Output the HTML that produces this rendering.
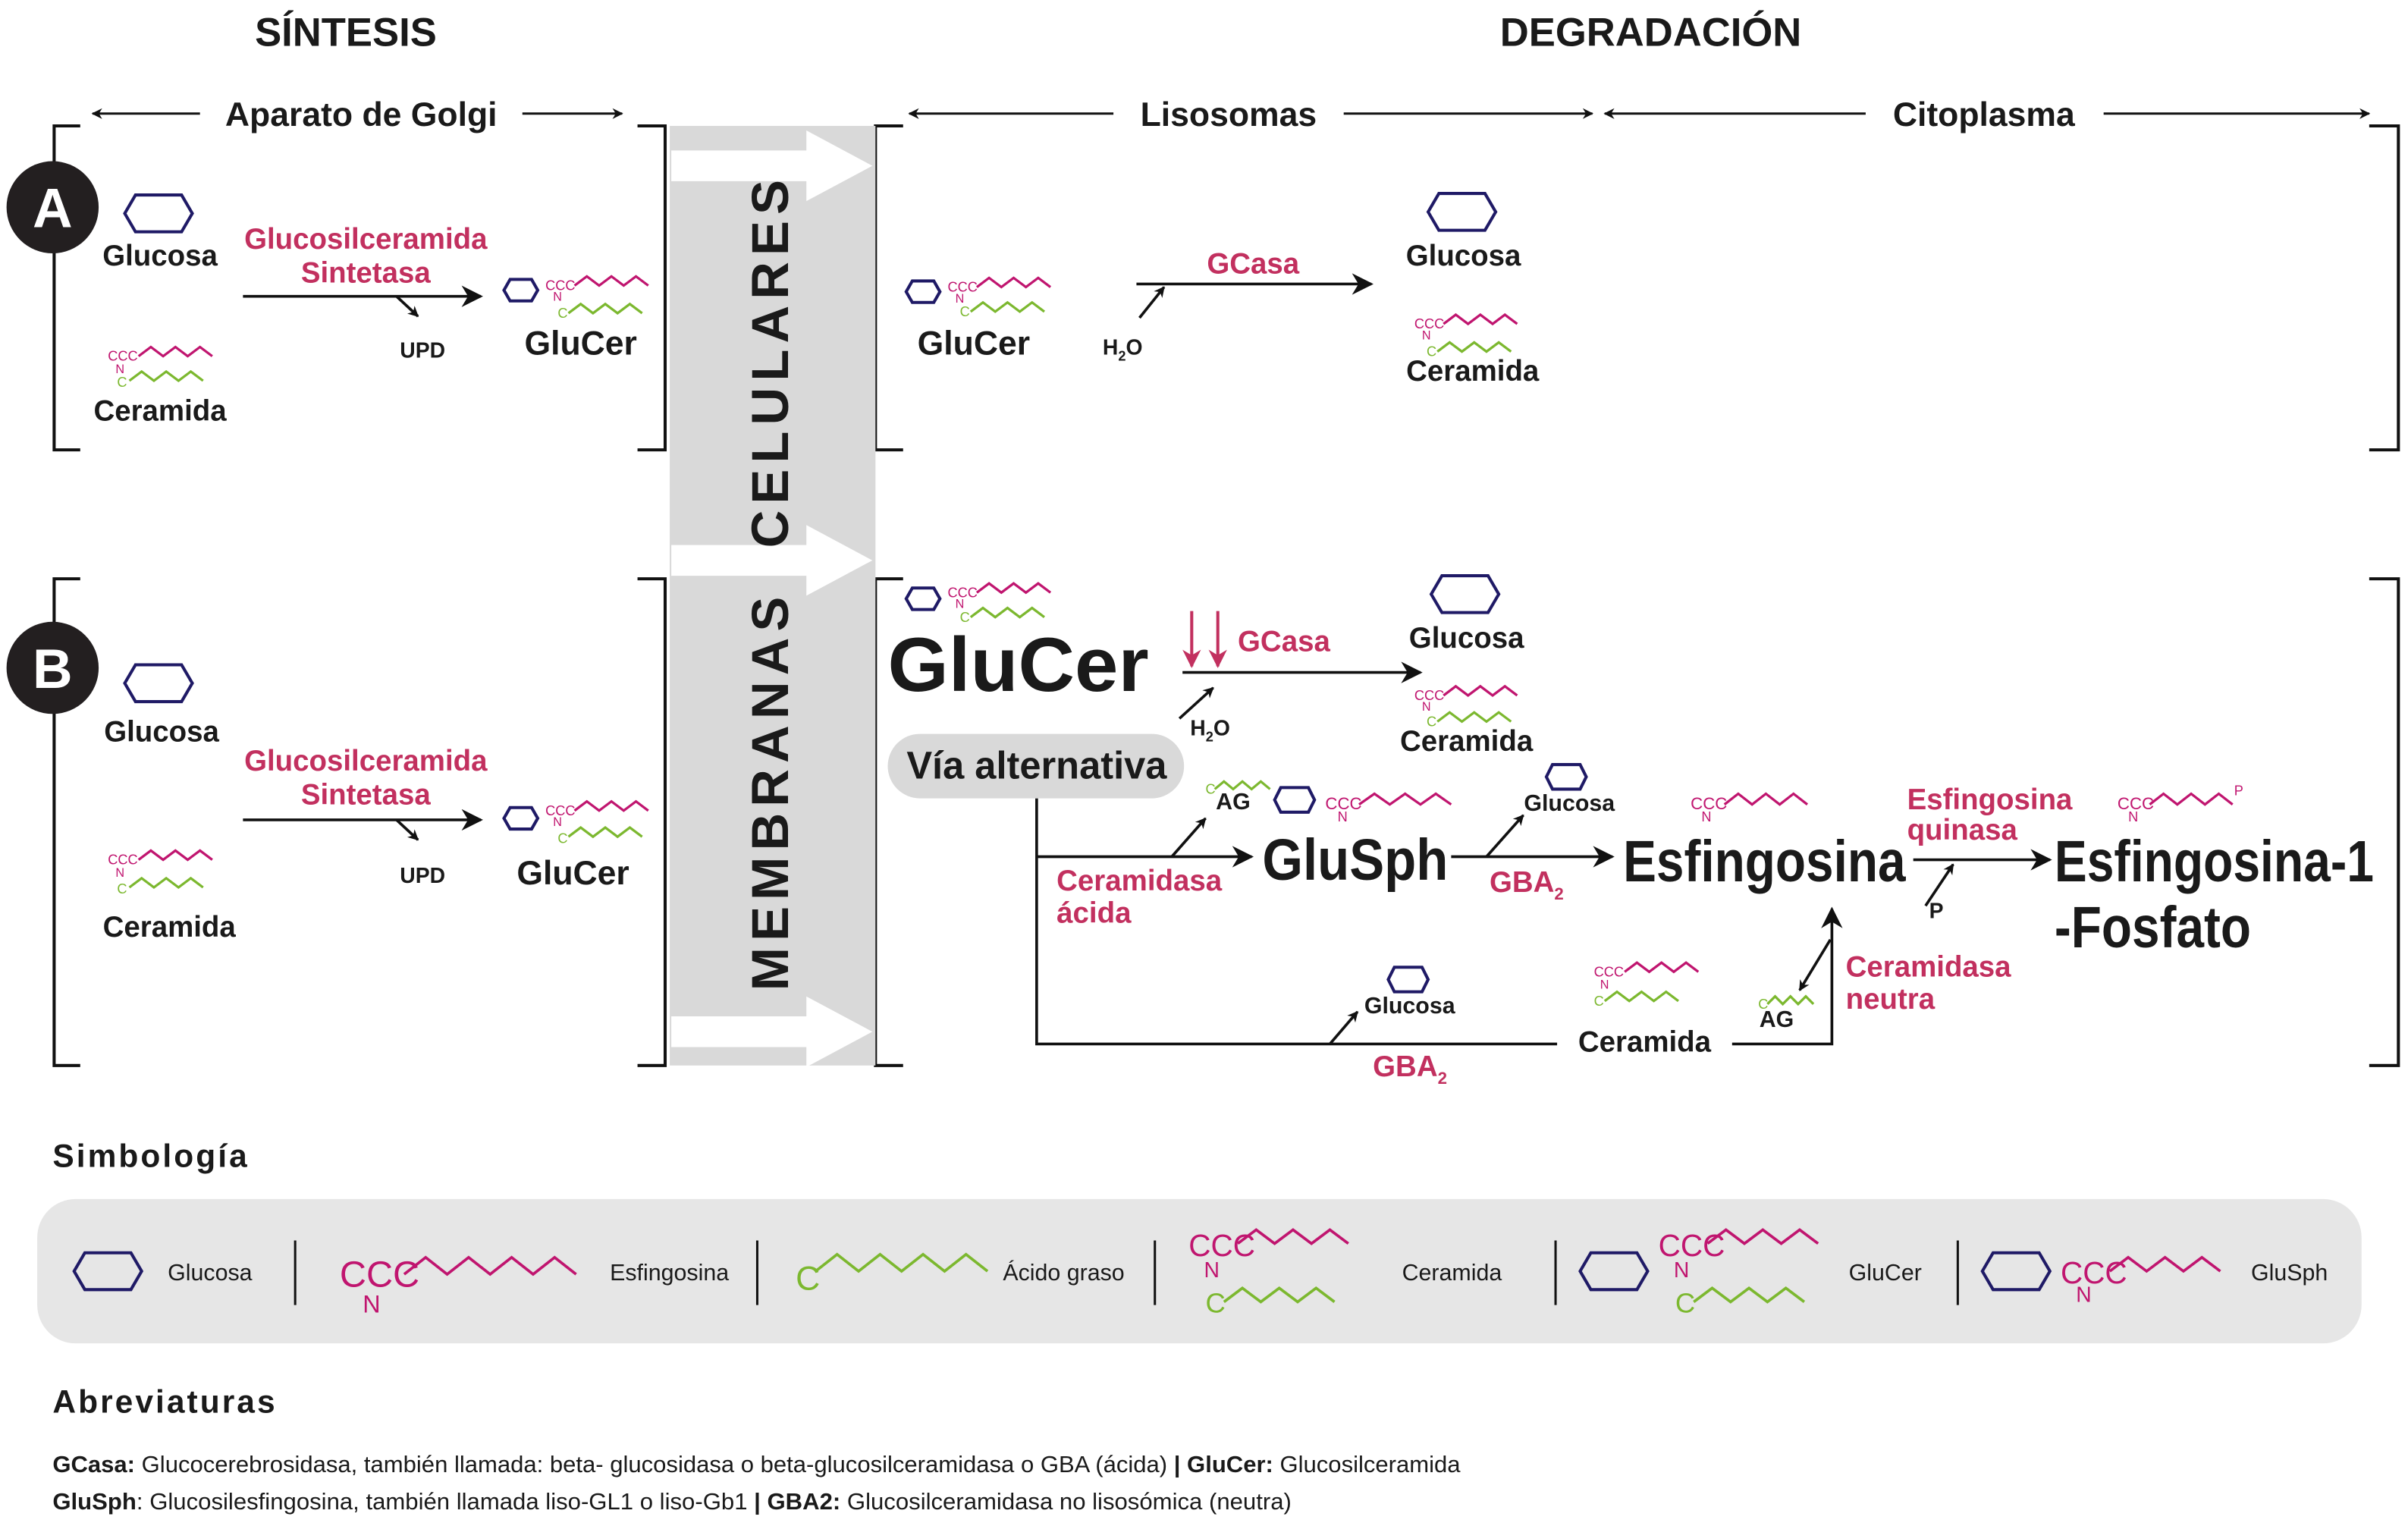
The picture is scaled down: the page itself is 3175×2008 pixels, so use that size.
<!DOCTYPE html>
<html><head><meta charset="utf-8"><style>
html,body{margin:0;padding:0;background:#fff}
svg{display:block}
text{font-family:"Liberation Sans",Arial,sans-serif;font-weight:bold;fill:#1a1a1a}
.p{fill:#c2305f}
.m{fill:#c0156f;font-weight:normal}
.g{fill:#7cb82f;font-weight:normal}
.n{font-weight:normal}
</style></head><body>
<svg width="3175" height="2008" viewBox="0 0 1568 992" xmlns="http://www.w3.org/2000/svg">
<defs>
<marker id="ah" viewBox="0 0 10 10" refX="9" refY="5" markerWidth="7" markerHeight="7" orient="auto" markerUnits="userSpaceOnUse"><path d="M0 0 L10 5 L0 10 L3 5 Z" fill="#111"/></marker>
<marker id="ah2" viewBox="0 0 10 10" refX="9" refY="5" markerWidth="14" markerHeight="14" orient="auto" markerUnits="userSpaceOnUse"><path d="M0 0 L10 5 L0 10 L3 5 Z" fill="#111"/></marker>
<marker id="ahp" viewBox="0 0 10 10" refX="9" refY="5" markerWidth="12" markerHeight="12" orient="auto" markerUnits="userSpaceOnUse"><path d="M0 0 L10 5 L0 10 L3 5 Z" fill="#c2305f"/></marker>
</defs>

<!-- headings -->
<text x="225" y="30" font-size="26" text-anchor="middle">SÍNTESIS</text>
<text x="1075" y="30" font-size="26" text-anchor="middle">DEGRADACIÓN</text>
<g font-size="22">
<text x="235" y="82" text-anchor="middle">Aparato de Golgi</text>
<text x="800" y="82" text-anchor="middle">Lisosomas</text>
<text x="1292" y="82" text-anchor="middle">Citoplasma</text>
</g>
<g stroke="#111" stroke-width="1.5" fill="none">
<line x1="130" y1="74" x2="60" y2="74" marker-end="url(#ah)"/>
<line x1="340" y1="74" x2="405" y2="74" marker-end="url(#ah)"/>
<line x1="725" y1="74" x2="592" y2="74" marker-end="url(#ah)"/>
<line x1="875" y1="74" x2="1037" y2="74" marker-end="url(#ah)"/>
<line x1="1215" y1="74" x2="1045" y2="74" marker-end="url(#ah)"/>
<line x1="1370" y1="74" x2="1543" y2="74" marker-end="url(#ah)"/>
</g>

<!-- brackets -->
<g stroke="#111" stroke-width="2" fill="none">
<path d="M52 82 H35 V293 H52"/><path d="M415 82 H433 V293 H415"/>
<path d="M588 82 H570 V293 H588"/><path d="M1543 82 H1562 V293 H1543"/>
<path d="M52 377 H35 V694 H52"/><path d="M415 377 H433 V694 H415"/>
<path d="M588 377 H570 V694 H588"/><path d="M1543 377 H1562 V694 H1543"/>
</g>

<!-- gray band -->
<rect x="436" y="82" width="134" height="612" fill="#d9d9d9"/>
<g fill="#fff">
<path d="M437 98 H525 V85 L568 108 L525 131 V118 H437 Z"/>
<path d="M437 355 H525 V342 L568 365 L525 388 V375 H437 Z"/>
<path d="M437 662 H525 V649 L568 672 L525 695 V682 H437 Z"/>
</g>
<text transform="translate(513,235) rotate(-90)" font-size="34" text-anchor="middle" letter-spacing="4">CELULARES</text>
<text transform="translate(513,515) rotate(-90)" font-size="34" text-anchor="middle" letter-spacing="4">MEMBRANAS</text>

<!-- circles -->
<circle cx="34" cy="135" r="30" fill="#231f20"/><text x="34" y="148" font-size="36" text-anchor="middle" style="fill:#fff">A</text>
<circle cx="34" cy="435" r="30" fill="#231f20"/><text x="34" y="448" font-size="36" text-anchor="middle" style="fill:#fff">B</text>

<!-- Simbología box (drawn before shapes) -->
<rect x="24" y="781" width="1514" height="94" rx="25" fill="#e6e6e6"/>

<g fill="none" stroke-width="2">
<!-- hexagons -->
<g stroke="#1f1a66">
<path d="M81 139 l7 -12 h30 l7 12 l-7 12 h-30 z"/>
<path d="M328 189 l4 -7 h14 l4 7 l-4 7 h-14 z"/>
<path d="M590 190 l4 -7 h14 l4 7 l-4 7 h-14 z"/>
<path d="M930 138 l7 -12 h30 l7 12 l-7 12 h-30 z"/>
<path d="M81 445 l7 -12 h30 l7 12 l-7 12 h-30 z"/>
<path d="M328 533 l4 -7 h14 l4 7 l-4 7 h-14 z"/>
<path d="M590 390 l4 -7 h14 l4 7 l-4 7 h-14 z"/>
<path d="M932 387 l7 -12 h30 l7 12 l-7 12 h-30 z"/>
<path d="M830 521 l4 -8 h18 l4 8 l-4 8 h-18 z"/>
<path d="M1007 506 l4 -8 h18 l4 8 l-4 8 h-18 z"/>
<path d="M904 638 l4 -8 h18 l4 8 l-4 8 h-18 z"/>
<path d="M48 828 l7 -12 h30 l7 12 l-7 12 h-30 z"/>
<path d="M1029 828 l7 -12 h30 l7 12 l-7 12 h-30 z"/>
<path d="M1291 828 l7 -12 h30 l7 12 l-7 12 h-30 z"/>
</g>
<!-- magenta chains small -->
<g stroke="#c0156f" stroke-width="1.6">
<path d="M90 232 l8 -6 8 6 8 -6 8 6 8 -6 8 6"/>
<path d="M374 186 l8 -6 8 6 8 -6 8 6 8 -6 8 6"/>
<path d="M636 187 l8 -6 8 6 8 -6 8 6 8 -6 8 6"/>
<path d="M940 211 l8 -6 8 6 8 -6 8 6 8 -6 8 6"/>
<path d="M90 560 l8 -6 8 6 8 -6 8 6 8 -6 8 6"/>
<path d="M374 528 l8 -6 8 6 8 -6 8 6 8 -6 8 6"/>
<path d="M636 386 l8 -6 8 6 8 -6 8 6 8 -6 8 6"/>
<path d="M940 453 l8 -6 8 6 8 -6 8 6 8 -6 8 6"/>
<path d="M885 524 l10 -7 10 7 10 -7 10 7 10 -7 10 7"/>
<path d="M1123 524 l9 -7 9 7 9 -7 9 7 9 -7 9 7"/>
<path d="M1400 524 l9 -7 9 7 9 -7 9 7 9 -7 9 7"/>
<path d="M1058 633 l8 -6 8 6 8 -6 8 6 8 -6 8 6"/>
</g>
<g stroke="#7cb82f" stroke-width="1.6">
<path d="M84 248 l8 -6 8 6 8 -6 8 6 8 -6 8 6"/>
<path d="M370 204 l8 -6 8 6 8 -6 8 6 8 -6 8 6"/>
<path d="M632 203 l8 -6 8 6 8 -6 8 6 8 -6 8 6"/>
<path d="M936 229 l8 -6 8 6 8 -6 8 6 8 -6 8 6"/>
<path d="M84 578 l8 -6 8 6 8 -6 8 6 8 -6 8 6"/>
<path d="M370 545 l8 -6 8 6 8 -6 8 6 8 -6 8 6"/>
<path d="M632 402 l8 -6 8 6 8 -6 8 6 8 -6 8 6"/>
<path d="M936 470 l8 -6 8 6 8 -6 8 6 8 -6 8 6"/>
<path d="M791 514 l6 -5 6 5 6 -5 6 5 6 -5 6 5"/>
<path d="M1045 652 l8 -6 8 6 8 -6 8 6 8 -6 8 6"/>
<path d="M1151 654 l5 -5 5 5 5 -5 5 5 5 -5 5 5"/>
</g>
</g>
<!-- small molecule labels -->
<g font-size="9" class="m">
<text x="70" y="235" class="m">CCC</text><text x="75" y="243" class="m" font-size="8">N</text><text x="76" y="252" class="g">C</text>
<text x="355" y="189" class="m">CCC</text><text x="360" y="196" class="m" font-size="8">N</text><text x="363" y="207" class="g">C</text>
<text x="617" y="190" class="m">CCC</text><text x="622" y="197" class="m" font-size="8">N</text><text x="625" y="206" class="g">C</text>
<text x="921" y="214" class="m">CCC</text><text x="926" y="221" class="m" font-size="8">N</text><text x="929" y="232" class="g">C</text>
<text x="70" y="563" class="m">CCC</text><text x="75" y="571" class="m" font-size="8">N</text><text x="76" y="582" class="g">C</text>
<text x="355" y="531" class="m">CCC</text><text x="360" y="538" class="m" font-size="8">N</text><text x="363" y="549" class="g">C</text>
<text x="617" y="389" class="m">CCC</text><text x="622" y="396" class="m" font-size="8">N</text><text x="625" y="405" class="g">C</text>
<text x="921" y="456" class="m">CCC</text><text x="926" y="463" class="m" font-size="8">N</text><text x="929" y="473" class="g">C</text>
<text x="863" y="527" class="m" font-size="11">CCC</text><text x="871" y="535" class="m" font-size="9">N</text>
<text x="1101" y="527" class="m" font-size="11">CCC</text><text x="1108" y="535" class="m" font-size="9">N</text>
<text x="1379" y="527" class="m" font-size="11">CCC</text><text x="1386" y="535" class="m" font-size="9">N</text><text x="1455" y="518" class="m" font-size="9">P</text>
<text x="1038" y="636" class="m">CCC</text><text x="1042" y="644" class="m" font-size="8">N</text><text x="1038" y="655" class="g">C</text>
<text x="785" y="517" class="g">C</text><text x="1145" y="657" class="g">C</text>
</g>

<!-- Panel A -->
<text x="104" y="173" font-size="19" text-anchor="middle">Glucosa</text>
<text x="104" y="274" font-size="19" text-anchor="middle">Ceramida</text>
<text x="238" y="162" font-size="19" text-anchor="middle" class="p">Glucosilceramida</text>
<text x="238" y="184" font-size="19" text-anchor="middle" class="p">Sintetasa</text>
<g stroke="#111" stroke-width="1.8" fill="none">
<line x1="158" y1="193" x2="313" y2="193" marker-end="url(#ah2)"/>
<line x1="258" y1="193" x2="272" y2="206" marker-end="url(#ah)"/>
<line x1="740" y1="185" x2="893" y2="185" marker-end="url(#ah2)"/>
<line x1="742" y1="207" x2="758" y2="187" marker-end="url(#ah)"/>
</g>
<text x="275" y="233" font-size="14" text-anchor="middle">UPD</text>
<text x="378" y="231" font-size="22" text-anchor="middle">GluCer</text>
<text x="634" y="231" font-size="22" text-anchor="middle">GluCer</text>
<text x="816" y="178" font-size="19" text-anchor="middle" class="p">GCasa</text>
<text x="718" y="231" font-size="14">H<tspan font-size="9" dy="4">2</tspan><tspan dy="-4">O</tspan></text>
<text x="953" y="173" font-size="19" text-anchor="middle">Glucosa</text>
<text x="959" y="248" font-size="19" text-anchor="middle">Ceramida</text>

<!-- Panel B left -->
<text x="105" y="483" font-size="19" text-anchor="middle">Glucosa</text>
<text x="110" y="610" font-size="19" text-anchor="middle">Ceramida</text>
<text x="238" y="502" font-size="19" text-anchor="middle" class="p">Glucosilceramida</text>
<text x="238" y="524" font-size="19" text-anchor="middle" class="p">Sintetasa</text>
<g stroke="#111" stroke-width="1.8" fill="none">
<line x1="158" y1="534" x2="313" y2="534" marker-end="url(#ah2)"/>
<line x1="258" y1="534" x2="272" y2="547" marker-end="url(#ah)"/>
</g>
<text x="275" y="575" font-size="14" text-anchor="middle">UPD</text>
<text x="373" y="576" font-size="22" text-anchor="middle">GluCer</text>

<!-- Panel B right -->
<text x="578" y="450" font-size="50" textLength="170" lengthAdjust="spacingAndGlyphs">GluCer</text>
<g stroke="#c2305f" stroke-width="2">
<line x1="776" y1="398" x2="776" y2="434" marker-end="url(#ahp)"/>
<line x1="793" y1="398" x2="793" y2="434" marker-end="url(#ahp)"/>
</g>
<text x="806" y="424" font-size="19" class="p">GCasa</text>
<g stroke="#111" stroke-width="1.8" fill="none">
<line x1="770" y1="438" x2="925" y2="438" marker-end="url(#ah2)"/>
<line x1="768" y1="468" x2="790" y2="448" marker-end="url(#ah)"/>
<path d="M675 520 V680 H1014"/>
<path d="M1128 680 H1193 V592" marker-end="url(#ah2)"/>
<line x1="675" y1="558" x2="815" y2="558" marker-end="url(#ah2)"/>
<line x1="763" y1="558" x2="785" y2="533" marker-end="url(#ah)"/>
<line x1="945" y1="558" x2="1050" y2="558" marker-end="url(#ah2)"/>
<line x1="968" y1="558" x2="992" y2="531" marker-end="url(#ah)"/>
<line x1="1246" y1="560" x2="1335" y2="560" marker-end="url(#ah2)"/>
<line x1="1254" y1="590" x2="1272" y2="563" marker-end="url(#ah)"/>
<line x1="1192" y1="612" x2="1172" y2="645" marker-end="url(#ah)"/>
<line x1="866" y1="680" x2="884" y2="659" marker-end="url(#ah)"/>
</g>
<text x="775" y="479" font-size="14">H<tspan font-size="9" dy="4">2</tspan><tspan dy="-4">O</tspan></text>
<text x="955" y="422" font-size="19" text-anchor="middle">Glucosa</text>
<text x="955" y="489" font-size="19" text-anchor="middle">Ceramida</text>
<rect x="578" y="478" width="193" height="42" rx="21" fill="#d9d9d9"/>
<text x="675" y="507" font-size="25" text-anchor="middle">Vía alternativa</text>
<text x="803" y="527" font-size="15" text-anchor="middle">AG</text>
<text x="822" y="573" font-size="38" textLength="121" lengthAdjust="spacingAndGlyphs">GluSph</text>
<text x="688" y="580" font-size="19" class="p">Ceramidasa</text>
<text x="688" y="601" font-size="19" class="p">ácida</text>
<text x="970" y="581" font-size="19" class="p">GBA<tspan font-size="11" dy="5">2</tspan></text>
<text x="1022" y="528" font-size="15" text-anchor="middle">Glucosa</text>
<text x="1057" y="574" font-size="38" textLength="184" lengthAdjust="spacingAndGlyphs">Esfingosina</text>
<text x="1242" y="527" font-size="19" class="p">Esfingosina</text>
<text x="1242" y="547" font-size="19" class="p">quinasa</text>
<text x="1261" y="598" font-size="14" text-anchor="middle">P</text>
<text x="1338" y="574" font-size="38" textLength="208" lengthAdjust="spacingAndGlyphs">Esfingosina-1</text>
<text x="1338" y="617" font-size="38" textLength="128" lengthAdjust="spacingAndGlyphs">-Fosfato</text>
<text x="1071" y="685" font-size="19" text-anchor="middle">Ceramida</text>
<text x="1157" y="669" font-size="15" text-anchor="middle">AG</text>
<text x="1202" y="636" font-size="19" class="p">Ceramidasa</text>
<text x="1202" y="657" font-size="19" class="p">neutra</text>
<text x="918" y="660" font-size="15" text-anchor="middle">Glucosa</text>
<text x="894" y="701" font-size="19" class="p">GBA<tspan font-size="11" dy="5">2</tspan></text>

<!-- Simbología -->
<text x="34" y="760" font-size="21" letter-spacing="1.5">Simbología</text>
<g stroke="#111" stroke-width="1.5">
<line x1="192" y1="808" x2="192" y2="850"/><line x1="493" y1="808" x2="493" y2="850"/>
<line x1="752" y1="808" x2="752" y2="850"/><line x1="1013" y1="808" x2="1013" y2="850"/>
<line x1="1275" y1="808" x2="1275" y2="850"/>
</g>
<g fill="none" stroke-width="1.8">
<path stroke="#c0156f" d="M263 830 l14 -11 14 11 14 -11 14 11 14 -11 14 11 14 -11 14 11"/>
<path stroke="#7cb82f" d="M531 828 l14 -11 14 11 14 -11 14 11 14 -11 14 11 14 -11 14 11"/>
<path stroke="#c0156f" d="M806 810 l12 -9 12 9 12 -9 12 9 12 -9 12 9"/>
<path stroke="#7cb82f" d="M797 848 l12 -9 12 9 12 -9 12 9 12 -9 12 9"/>
<path stroke="#c0156f" d="M1112 810 l12 -9 12 9 12 -9 12 9 12 -9 12 9"/>
<path stroke="#7cb82f" d="M1103 848 l12 -9 12 9 12 -9 12 9 12 -9 12 9"/>
<path stroke="#c0156f" d="M1374 828 l12 -9 12 9 12 -9 12 9 12 -9 12 9"/>
</g>
<g class="n" font-size="15">
<text x="109" y="834" class="n">Glucosa</text>
<text x="397" y="834" class="n">Esfingosina</text>
<text x="653" y="834" class="n">Ácido graso</text>
<text x="913" y="834" class="n">Ceramida</text>
<text x="1204" y="834" class="n">GluCer</text>
<text x="1466" y="834" class="n">GluSph</text>
</g>
<text x="221" y="838" font-size="24" class="m">CCC</text><text x="236" y="855" font-size="16" class="m">N</text>
<text x="518" y="840" font-size="22" class="g">C</text>
<text x="774" y="818" font-size="20" class="m">CCC</text><text x="784" y="832" font-size="14" class="m">N</text><text x="785" y="855" font-size="18" class="g">C</text>
<text x="1080" y="818" font-size="20" class="m">CCC</text><text x="1090" y="832" font-size="14" class="m">N</text><text x="1091" y="855" font-size="18" class="g">C</text>
<text x="1342" y="836" font-size="20" class="m">CCC</text><text x="1352" y="848" font-size="14" class="m">N</text>

<!-- Abreviaturas -->
<text x="34" y="920" font-size="21" letter-spacing="1.5">Abreviaturas</text>
<text x="34" y="959" font-size="15" textLength="917" lengthAdjust="spacingAndGlyphs">GCasa:<tspan class="n"> Glucocerebrosidasa, también llamada: beta- glucosidasa o beta-glucosilceramidasa o GBA (ácida)  </tspan> |  GluCer:<tspan class="n"> Glucosilceramida</tspan></text>
<text x="34" y="983" font-size="15" textLength="807" lengthAdjust="spacingAndGlyphs">GluSph<tspan class="n">: Glucosilesfingosina, también llamada liso-GL1 o liso-Gb1 </tspan> |  GBA2:<tspan class="n"> Glucosilceramidasa no lisosómica (neutra)</tspan></text>
</svg>
</body></html>
